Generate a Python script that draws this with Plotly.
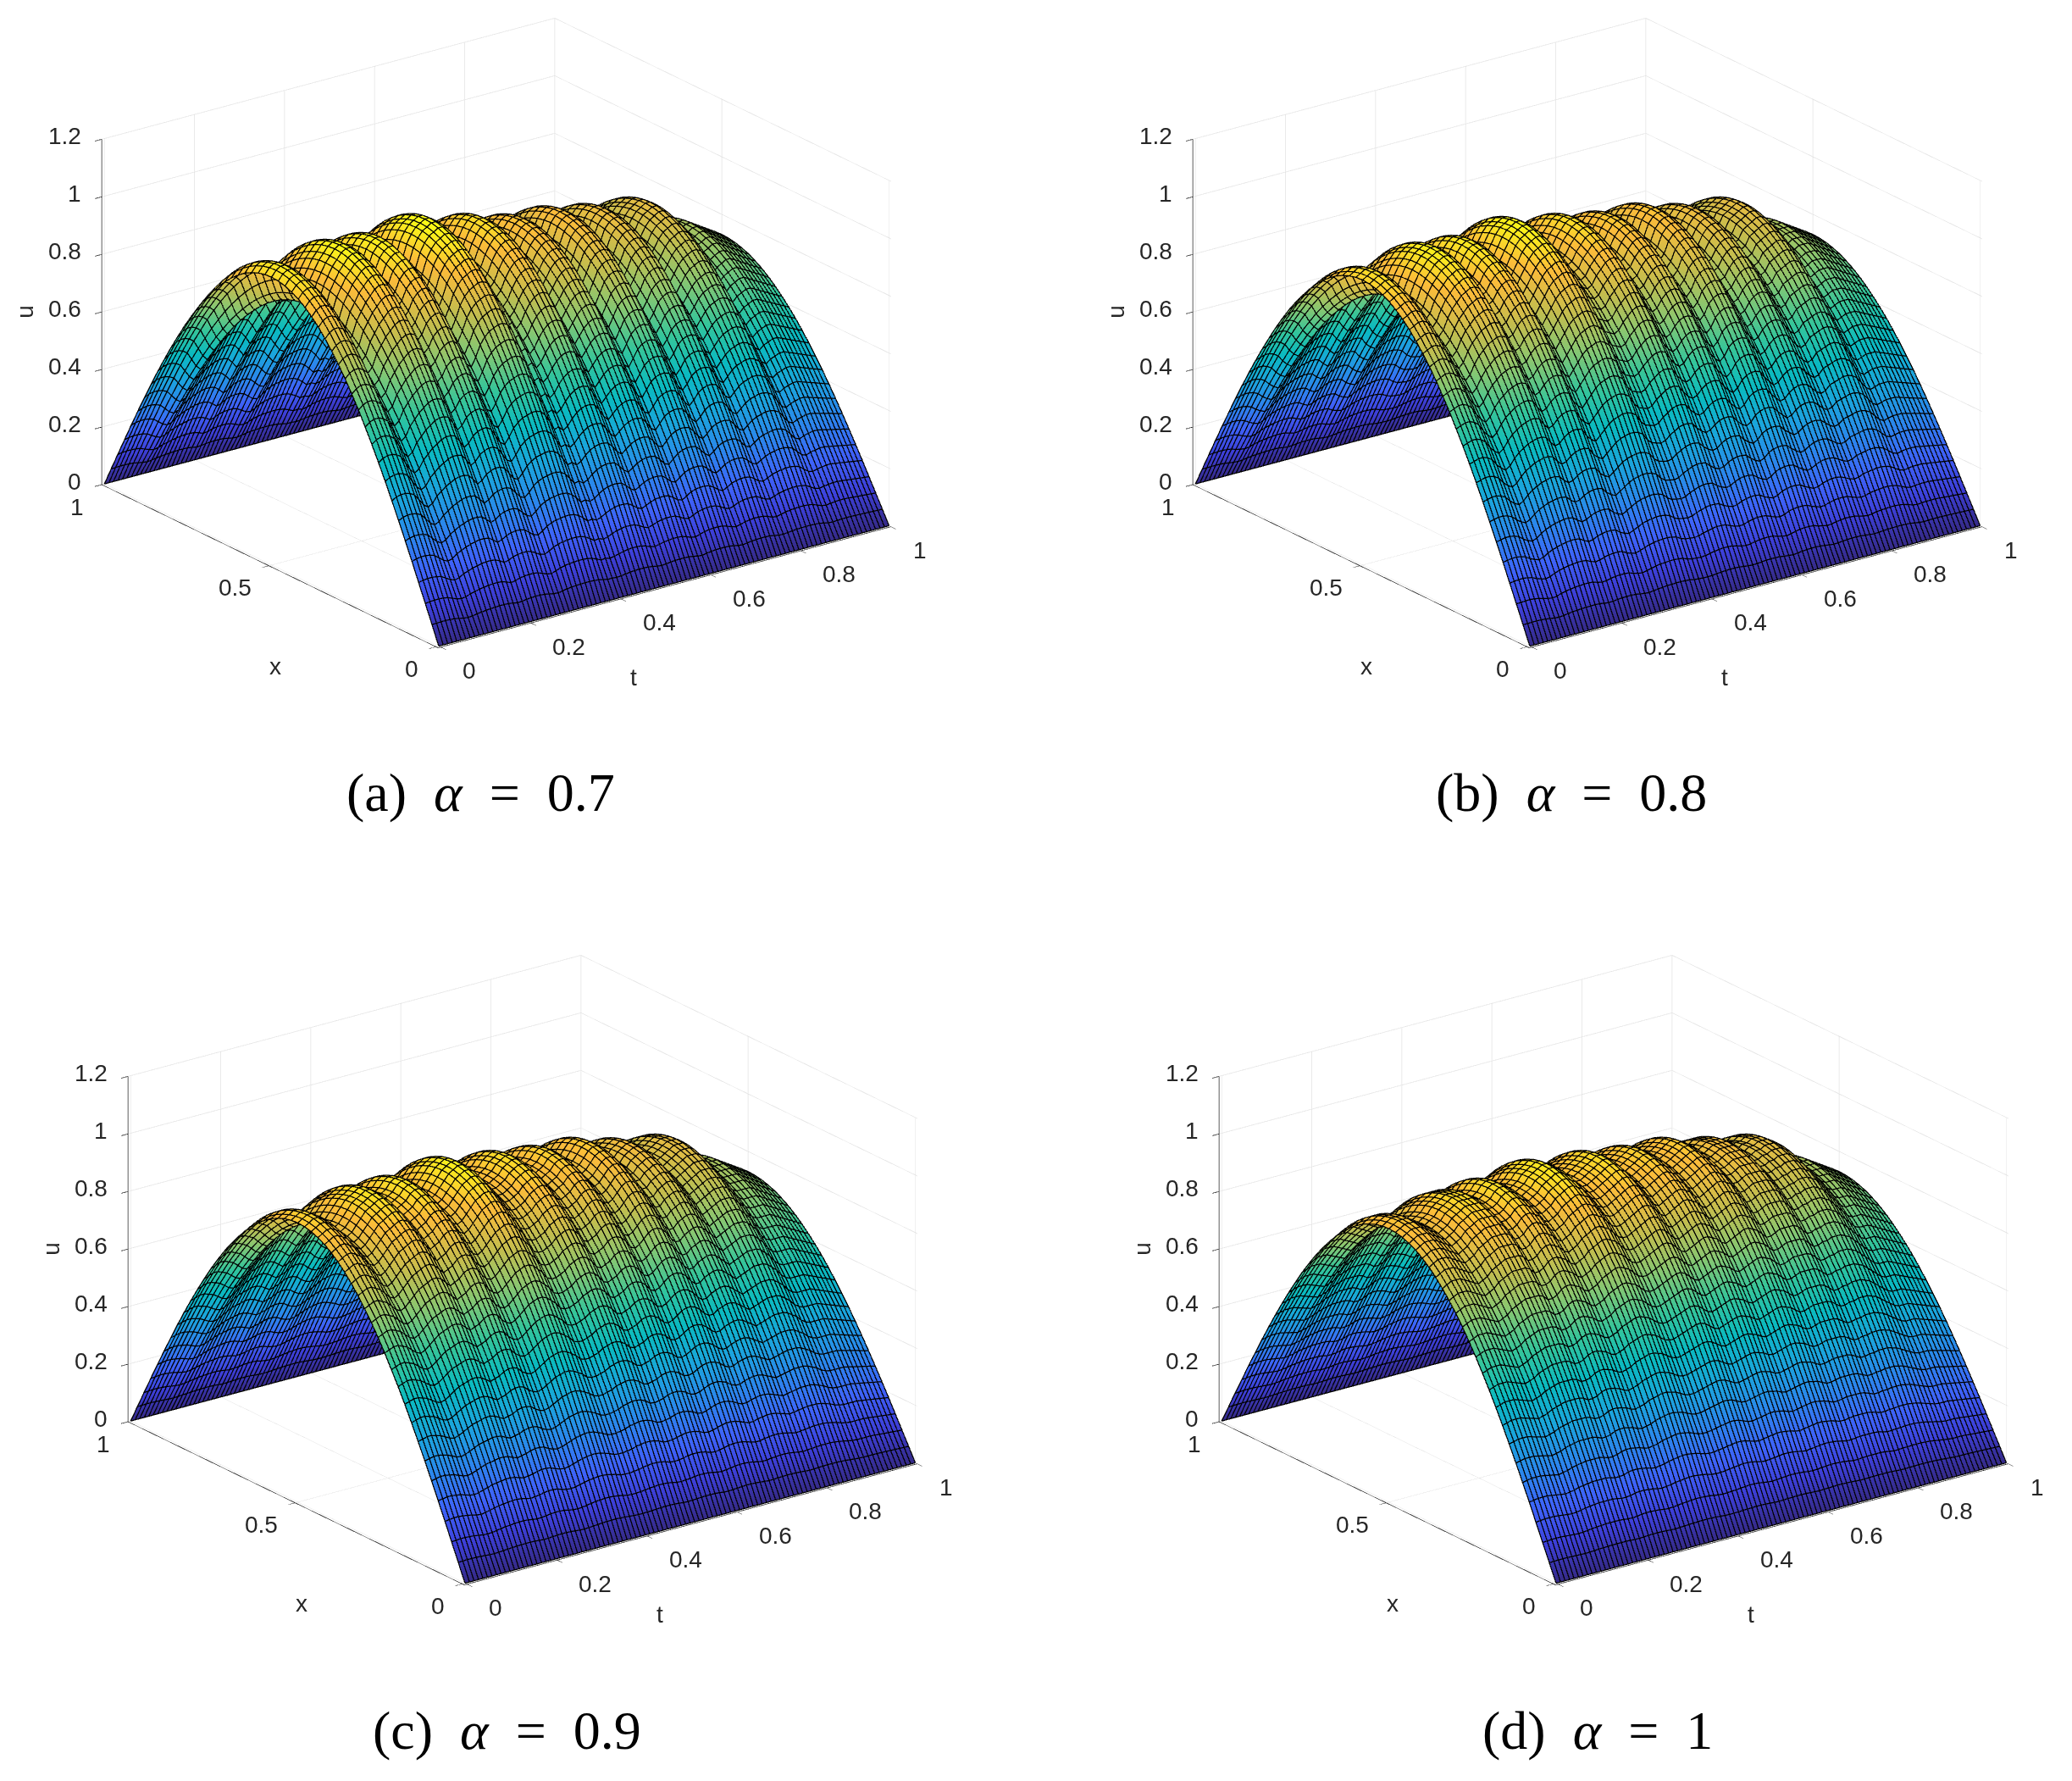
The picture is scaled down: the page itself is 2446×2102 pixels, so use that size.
import numpy as np
import plotly.graph_objects as go

t_nodes = [
    0.00, 0.01, 0.02, 0.03, 0.04, 0.05, 0.06, 0.07, 0.08, 0.09,
    0.10, 0.11, 0.12, 0.13, 0.14, 0.15, 0.16, 0.17, 0.18, 0.19,
    0.20, 0.21, 0.22, 0.23, 0.24, 0.25, 0.26, 0.27, 0.28, 0.29,
    0.30, 0.31, 0.32, 0.33, 0.34, 0.35, 0.36, 0.37, 0.38, 0.39,
    0.40, 0.41, 0.42, 0.43, 0.44, 0.45, 0.46, 0.47, 0.48, 0.49,
    0.50, 0.51, 0.52, 0.53, 0.54, 0.55, 0.56, 0.57, 0.58, 0.59,
    0.60, 0.61, 0.62, 0.63, 0.64, 0.65, 0.66, 0.67, 0.68, 0.69,
    0.70, 0.71, 0.72, 0.73, 0.74, 0.75, 0.76, 0.77, 0.78, 0.79,
    0.80, 0.81, 0.82, 0.83, 0.84, 0.85, 0.86, 0.87, 0.88, 0.89,
    0.90, 0.91, 0.92, 0.93, 0.94, 0.95, 0.96, 0.97, 0.98, 0.99, 1.00,
]

x_nodes = [
    0.00, 0.02, 0.04, 0.06, 0.08, 0.10, 0.12, 0.14, 0.16, 0.18,
    0.20, 0.22, 0.24, 0.26, 0.28, 0.30, 0.32, 0.34, 0.36, 0.38,
    0.40, 0.42, 0.44, 0.46, 0.48, 0.50, 0.52, 0.54, 0.56, 0.58,
    0.60, 0.62, 0.64, 0.66, 0.68, 0.70, 0.72, 0.74, 0.76, 0.78,
    0.80, 0.82, 0.84, 0.86, 0.88, 0.90, 0.92, 0.94, 0.96, 0.98, 1.00,
]

# arch shape across x, relative to the ridge height
arch = [
    0.000, 0.063, 0.125, 0.187, 0.249, 0.309, 0.368, 0.426, 0.482, 0.536,
    0.588, 0.637, 0.685, 0.729, 0.771, 0.809, 0.844, 0.876, 0.905, 0.930,
    0.951, 0.969, 0.982, 0.992, 0.998, 1.000, 0.998, 0.992, 0.982, 0.969,
    0.951, 0.930, 0.905, 0.876, 0.844, 0.809, 0.771, 0.729, 0.685, 0.637,
    0.588, 0.536, 0.482, 0.426, 0.368, 0.309, 0.249, 0.187, 0.125, 0.063, 0.000,
]

# ridge height along t for each panel
ridge_a = [
    1.00, 1.02, 1.03, 1.03, 1.02, 1.00, 0.95, 0.90, 0.87, 0.89,
    0.94, 0.97, 1.00, 1.02, 1.04, 1.05, 1.05, 1.04, 1.00, 0.95,
    0.97, 1.01, 1.03, 1.04, 1.04, 1.02, 0.97, 0.92, 0.90, 0.94,
    0.99, 1.02, 1.04, 1.05, 1.06, 1.06, 1.05, 1.02, 0.97, 0.91,
    0.92, 0.89, 0.91, 0.95, 0.98, 1.00, 1.01, 1.01, 1.00, 0.96,
    0.91, 0.88, 0.91, 0.94, 0.96, 0.97, 0.97, 0.96, 0.92, 0.87,
    0.85, 0.89, 0.93, 0.95, 0.96, 0.96, 0.95, 0.91, 0.86, 0.83,
    0.86, 0.90, 0.92, 0.93, 0.93, 0.92, 0.88, 0.83, 0.81, 0.84,
    0.87, 0.89, 0.90, 0.91, 0.91, 0.90, 0.88, 0.83, 0.78, 0.76,
    0.78, 0.79, 0.80, 0.80, 0.79, 0.78, 0.77, 0.76, 0.75, 0.74, 0.73,
]
ridge_b = [
    0.99, 1.00, 1.01, 1.01, 1.00, 0.98, 0.94, 0.91, 0.89, 0.91,
    0.95, 0.98, 1.00, 1.02, 1.03, 1.04, 1.04, 1.03, 0.99, 0.96,
    0.97, 1.00, 1.02, 1.03, 1.03, 1.02, 0.97, 0.94, 0.92, 0.95,
    0.98, 1.01, 1.03, 1.04, 1.05, 1.05, 1.04, 1.02, 0.97, 0.94,
    0.93, 0.92, 0.93, 0.96, 0.98, 1.00, 1.01, 1.01, 1.00, 0.96,
    0.93, 0.91, 0.92, 0.95, 0.97, 0.98, 0.98, 0.97, 0.93, 0.90,
    0.88, 0.90, 0.94, 0.96, 0.97, 0.97, 0.96, 0.92, 0.89, 0.86,
    0.87, 0.90, 0.92, 0.93, 0.93, 0.92, 0.89, 0.86, 0.84, 0.85,
    0.88, 0.89, 0.90, 0.91, 0.91, 0.90, 0.88, 0.84, 0.80, 0.78,
    0.79, 0.80, 0.80, 0.80, 0.79, 0.78, 0.77, 0.76, 0.75, 0.74, 0.73,
]
ridge_c = [
    0.97, 0.98, 0.99, 0.99, 0.98, 0.97, 0.95, 0.93, 0.92, 0.93,
    0.95, 0.97, 0.99, 1.00, 1.01, 1.02, 1.02, 1.01, 0.99, 0.97,
    0.98, 0.99, 1.01, 1.02, 1.02, 1.01, 0.98, 0.96, 0.95, 0.96,
    0.98, 1.00, 1.02, 1.03, 1.04, 1.04, 1.03, 1.01, 0.99, 0.96,
    0.95, 0.95, 0.96, 0.97, 0.99, 1.00, 1.01, 1.01, 1.00, 0.98,
    0.95, 0.94, 0.95, 0.96, 0.98, 0.99, 0.99, 0.98, 0.96, 0.93,
    0.92, 0.93, 0.95, 0.97, 0.98, 0.98, 0.97, 0.95, 0.92, 0.90,
    0.90, 0.92, 0.93, 0.94, 0.94, 0.93, 0.91, 0.89, 0.87, 0.88,
    0.89, 0.90, 0.91, 0.91, 0.91, 0.90, 0.88, 0.86, 0.83, 0.81,
    0.80, 0.80, 0.80, 0.80, 0.79, 0.78, 0.77, 0.76, 0.75, 0.74, 0.73,
]
ridge_d = [
    0.95, 0.96, 0.97, 0.97, 0.97, 0.96, 0.95, 0.94, 0.93, 0.94,
    0.95, 0.97, 0.98, 0.99, 1.00, 1.00, 1.00, 1.00, 0.99, 0.97,
    0.97, 0.98, 1.00, 1.01, 1.01, 1.00, 0.99, 0.97, 0.96, 0.97,
    0.98, 1.00, 1.01, 1.02, 1.03, 1.03, 1.02, 1.01, 0.99, 0.97,
    0.96, 0.96, 0.97, 0.98, 0.99, 1.00, 1.01, 1.01, 1.00, 0.98,
    0.96, 0.95, 0.96, 0.97, 0.98, 0.99, 0.99, 0.98, 0.97, 0.95,
    0.94, 0.95, 0.96, 0.97, 0.98, 0.98, 0.97, 0.96, 0.94, 0.92,
    0.92, 0.93, 0.94, 0.94, 0.94, 0.94, 0.93, 0.91, 0.89, 0.89,
    0.90, 0.90, 0.91, 0.91, 0.91, 0.90, 0.89, 0.87, 0.85, 0.83,
    0.81, 0.80, 0.80, 0.80, 0.79, 0.78, 0.77, 0.76, 0.75, 0.74, 0.73,
]

ridges = [ridge_a, ridge_b, ridge_c, ridge_d]
captions = [
    "(a)\u00a0 <i>α</i>\u00a0 =\u00a0 0.7",
    "(b)\u00a0 <i>α</i>\u00a0 =\u00a0 0.8",
    "(c)\u00a0 <i>α</i>\u00a0 =\u00a0 0.9",
    "(d)\u00a0 <i>α</i>\u00a0 =\u00a0 1",
]

t_ticks = [0, 0.2, 0.4, 0.6, 0.8, 1]
x_ticks = [0, 0.5, 1]
u_ticks = [0, 0.2, 0.4, 0.6, 0.8, 1, 1.2]

parula = [
    [0.00, "#352a87"], [0.10, "#3d3fd9"], [0.20, "#3e63fa"], [0.30, "#2a88ec"],
    [0.40, "#1aa5dc"], [0.50, "#0abac0"], [0.60, "#35c59a"], [0.70, "#85c772"],
    [0.80, "#c4bd4e"], [0.90, "#fbbb3a"], [1.00, "#f9fb15"],
]

W, H = 2446, 2102
PAGE_MARGIN = 8
# centres of the four 3D boxes in page pixels
centres = [(586, 393), (1874, 393), (617, 1499), (1905, 1499)]
box_w, box_h = 1050, 770

# viewing direction, unit length
eye_dir = (-0.556, -0.749, 0.36)
box_scale = 1.73
aspect_z = 0.656
# mesh lines are pulled this far towards the eye so they stay above the faces
nudge = 0.006
u_top = 1.2

font_tick = dict(family="Liberation Sans", size=28, color="#262626")
font_title = dict(family="Liberation Sans", size=28, color="#262626")

fig = go.Figure()


def mesh_lines(u):
    # every grid line of the surface, joined into one trace with gaps
    lx, ly, lz = [], [], []
    for j, t in enumerate(t_nodes):
        lx += [t] * len(x_nodes) + [None]
        ly += x_nodes + [None]
        lz += list(u[:, j]) + [None]
    for k, x in enumerate(x_nodes):
        lx += t_nodes + [None]
        ly += [x] * len(t_nodes) + [None]
        lz += list(u[k, :]) + [None]
    lx = [v + eye_dir[0] * nudge if v is not None else None for v in lx]
    ly = [v + eye_dir[1] * nudge if v is not None else None for v in ly]
    lz = [v + eye_dir[2] * nudge * u_top / aspect_z if v is not None else None for v in lz]
    return lx, ly, lz


def axis_labels():
    notes = []
    for v in u_ticks:
        notes.append(dict(x=0, y=1, z=v, text=str(v), showarrow=False, font=font_tick,
                          xanchor="right", xshift=-25, yshift=3))
    for v in t_ticks:
        notes.append(dict(x=v, y=0, z=0, text=str(v), showarrow=False, font=font_tick,
                          xanchor="left", xshift=26, yshift=-29))
    for v in x_ticks:
        notes.append(dict(x=0, y=v, z=0, text=str(v), showarrow=False, font=font_tick,
                          xanchor="right", xshift=-22, yshift=-27))
    notes.append(dict(x=0, y=1, z=0.6, text="u", showarrow=False, font=font_title,
                      textangle=-90, xshift=-94))
    notes.append(dict(x=0, y=0.5, z=0, text="x", showarrow=False, font=font_title,
                      xshift=4, yshift=-120))
    notes.append(dict(x=0.5, y=0, z=0, text="t", showarrow=False, font=font_title,
                      xshift=-36, yshift=-108))
    return notes


for i, ridge in enumerate(ridges):
    name = "scene" if i == 0 else f"scene{i + 1}"
    u = np.outer(arch, ridge)
    fig.add_trace(go.Surface(
        x=t_nodes, y=x_nodes, z=u,
        scene=name,
        colorscale=parula, cmin=0, cmax=1.06,
        showscale=False, hoverinfo="skip",
        lighting=dict(ambient=1, diffuse=0, specular=0, roughness=1, fresnel=0),
    ))
    lx, ly, lz = mesh_lines(u)
    fig.add_trace(go.Scatter3d(
        x=lx, y=ly, z=lz, scene=name, mode="lines",
        line=dict(color="black", width=2.5),
        hoverinfo="skip", showlegend=False,
    ))
    axis = dict(
        showbackground=False, showgrid=True, gridcolor="#e3e3e3", gridwidth=1.5,
        showline=True, linecolor="#262626", linewidth=1.5, zeroline=False,
        ticks="outside", ticklen=10, tickcolor="#262626", tickwidth=1.5,
        showticklabels=False, showspikes=False, title=dict(text=""),
    )
    cx, cy = centres[i]
    cx -= PAGE_MARGIN
    cy -= PAGE_MARGIN
    fig.update_layout({name: dict(
        domain=dict(
            x=[(cx - box_w / 2) / W, (cx + box_w / 2) / W],
            y=[1 - (cy + box_h / 2) / H, 1 - (cy - box_h / 2) / H],
        ),
        xaxis=dict(axis, range=[-nudge, 1], tickvals=t_ticks),
        yaxis=dict(axis, range=[-nudge, 1], tickvals=x_ticks),
        zaxis=dict(axis, range=[0, u_top], tickvals=u_ticks),
        aspectmode="manual",
        aspectratio=dict(x=box_scale, y=box_scale, z=aspect_z * box_scale),
        camera=dict(
            projection=dict(type="orthographic"),
            eye=dict(x=eye_dir[0], y=eye_dir[1], z=eye_dir[2]),
            center=dict(x=0, y=0, z=0),
            up=dict(x=0, y=0, z=1),
        ),
        annotations=axis_labels(),
    )})
    fig.add_annotation(
        x=(cx - 19) / W, y=1 - (cy + 543) / H, xref="paper", yref="paper",
        xanchor="center", yanchor="middle",
        text=captions[i], showarrow=False,
        font=dict(family="Liberation Serif", size=64, color="black"),
    )

fig.update_layout(
    width=W, height=H,
    margin=dict(l=0, r=0, t=0, b=0),
    paper_bgcolor="white",
    showlegend=False,
)

fig.write_html("out.html", config={"plotGlPixelRatio": 1})
